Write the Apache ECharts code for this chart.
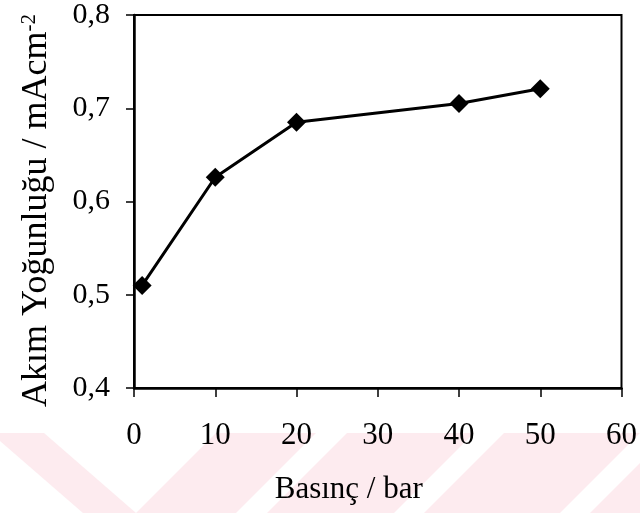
<!DOCTYPE html>
<html>
<head>
<meta charset="utf-8">
<script src="https://cdn.jsdelivr.net/npm/echarts@6/dist/echarts.min.js"></script>
<style>html,body{margin:0;padding:0;background:#fff}#c{width:640px;height:513px}</style>
</head>
<body>
<div id="c"></div>
<script>
var pressure = [1, 10, 20, 40, 50];
var currentDensity = [0.51, 0.626, 0.685, 0.705, 0.721];
var xTicks = [0, 10, 20, 30, 40, 50, 60];
var yTicks = [0.4, 0.5, 0.6, 0.7, 0.8];
var xName = 'Basınç / bar';
var yName = 'Akım Yoğunluğu / mAcm';
var ySup = '-2';

var FONT = '"Liberation Serif", "Times New Roman", serif';
var PINK = '#fdebef';

function band(pts) {
  return { type: 'polygon', silent: true, z: -100, shape: { points: pts }, style: { fill: PINK } };
}

var chart = echarts.init(document.getElementById('c'), null, { renderer: 'canvas' });
chart.setOption({
  animation: false,
  backgroundColor: '#fff',
  graphic: [
    band([[0, 433], [44, 433], [136, 513], [83, 513], [0, 441]]),
    band([[216, 433], [316, 433], [236, 513], [136, 513]]),
    band([[347, 433], [474, 433], [394, 513], [267, 513]]),
    band([[504, 433], [640, 433], [560, 513], [424, 513]]),
    band([[640, 463], [640, 513], [590, 513]])
  ],
  grid: {
    left: 134, right: 18, top: 14, bottom: 125,
    show: true, borderColor: '#000', borderWidth: 2, backgroundColor: 'transparent'
  },
  xAxis: {
    type: 'value',
    min: xTicks[0], max: xTicks[xTicks.length - 1], interval: 10,
    name: xName,
    nameLocation: 'middle',
    nameGap: 86,
    nameTextStyle: { fontFamily: FONT, fontSize: 31, color: '#000', padding: [0, 58, 0, 0] },
    axisLine: { show: true, lineStyle: { color: '#000', width: 2.5 } },
    axisTick: { show: true, inside: false, length: 9, lineStyle: { color: '#000', width: 1.5 } },
    axisLabel: { fontFamily: FONT, fontSize: 31, color: '#000', margin: 32 },
    splitLine: { show: false }
  },
  yAxis: {
    type: 'value',
    min: yTicks[0], max: yTicks[yTicks.length - 1], interval: 0.1,
    name: '{a|' + yName + '}{s|' + ySup + '}',
    nameLocation: 'middle',
    nameGap: 79,
    nameTextStyle: {
      padding: [0, 18, 0, 0],
      rich: {
        a: { fontFamily: FONT, fontSize: 36, color: '#000', verticalAlign: 'bottom' },
        s: { fontFamily: FONT, fontSize: 21, color: '#000', verticalAlign: 'top' }
      }
    },
    axisLine: { show: true, lineStyle: { color: '#000', width: 2.5 } },
    axisTick: { show: true, inside: false, length: 8, lineStyle: { color: '#000', width: 1.5 } },
    axisLabel: {
      fontFamily: FONT, fontSize: 30, color: '#000', margin: 24,
      formatter: function (v) { return v.toFixed(1).replace('.', ','); }
    },
    splitLine: { show: false }
  },
  series: [{
    type: 'line',
    data: pressure.map(function (p, i) { return [p, currentDensity[i]]; }),
    symbol: 'diamond',
    symbolSize: 19,
    showSymbol: true,
    itemStyle: { color: '#000' },
    lineStyle: { color: '#000', width: 3 }
  }]
});
</script>
</body>
</html>
